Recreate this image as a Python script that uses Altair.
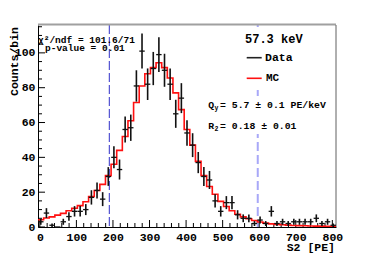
import altair as alt
import numpy as np
import pandas as pd

# ---- data ----
x_range = [-5, 810]
n_bins = 53
data_counts = [3, 8, 1, 0, 3, 6, 9, 9, 10, 17,
               21, 16, 29, 40, 33, 56, 57, 81, 101, 82,
               91, 99, 90, 82, 65, 74, 54, 47, 37, 29,
               27, 15, 9, 14, 14, 7, 5, 5, 2, 4,
               2, 9, 2, 3, 2, 3, 3, 3, 3, 5,
               2, 3, 1]
mc_counts = [4.2, 5.2, 5.8, 6.8, 7.8, 9.3, 10.8, 12.3, 14.5, 17.5,
             21, 24.5, 29.5, 36, 44, 52, 61, 71.5, 81, 88,
             91.5, 94.3, 91.5, 85.6, 77, 67.4, 56, 47, 37.7, 29.5,
             23.3, 18.8, 14.7, 11.8, 9.3, 7.3, 5.8, 4.7, 3.7, 2.9,
             2.2, 1.8, 1.5, 1.3, 1.1, 0.9, 0.8, 0.7, 0.6, 0.5,
             0.5, 0.4, 0.4]
y_range = [0, 116]
x_major = [0, 100, 200, 300, 400, 500, 600, 700, 800]
x_minor = [v for v in range(0, 810, 20) if v % 100 != 0]
y_major = [0, 20, 40, 60, 80, 100]
y_minor = [v for v in range(0, 116, 5) if v % 20 != 0]
cut_lines = [190, 596]
energy_text = "57.3 keV"
chi2_text = "χ²/ndf = 101.6/71"
pval_text = "p-value = 0.01"
qy_text = "Q  = 5.7 ± 0.1 PE/keV"
r2_text = "R  = 0.18 ± 0.01"
x_title = "S2 [PE]"
y_title = "Counts/bin"

# ---- derived tables ----
edges = np.linspace(x_range[0], x_range[1], n_bins + 1)
counts = np.array(data_counts, dtype=float)
err = np.sqrt(counts)
df = pd.DataFrame({
    "c": (edges[:-1] + edges[1:]) / 2,
    "lo": edges[:-1] + 0.3,
    "hi": edges[1:] - 0.3,
    "n": counts,
    "elo": counts - err,
    "ehi": counts + err,
})
mc_df = pd.DataFrame({"x": edges, "y": mc_counts + [mc_counts[-1]]})

W, H = 298, 202
FONT = "Liberation Mono"
xs = alt.Scale(domain=x_range, nice=False, zero=False)
ys = alt.Scale(domain=y_range, nice=False, zero=False)

X_AXIS = alt.Axis(
    values=x_major, ticks=False, tickSize=0, grid=False, title=None,
    labelFont=FONT, labelFontWeight="bold", labelFontSize=11.5,
    labelColor="black", labelPadding=4, domainColor="black", domainWidth=1,
    labelFlush=False)
Y_AXIS = alt.Axis(
    values=y_major, ticks=False, tickSize=0, grid=False, title=None,
    labelFont=FONT, labelFontWeight="bold", labelFontSize=11.5,
    labelColor="black", labelPadding=3, domainColor="black", domainWidth=1,
    labelFlush=False)


def X(field, **kw):
    return alt.X(field, scale=xs, axis=X_AXIS, **kw)


def Y(field, **kw):
    return alt.Y(field, scale=ys, axis=Y_AXIS, **kw)


one = pd.DataFrame({"a": [0]})

top_frame = alt.Chart(one).mark_rule(color="#a0a0a0", strokeWidth=2).encode(
    x=alt.value(0), x2=alt.value(W), y=alt.value(-0.5))
right_frame = alt.Chart(one).mark_rule(color="#606060", strokeWidth=1).encode(
    x=alt.value(W), y=alt.value(0), y2=alt.value(H))

xt_major = alt.Chart(pd.DataFrame({"v": x_major})).mark_rule(color="black", strokeWidth=1).encode(
    x=X("v:Q"), y=alt.value(H), y2=alt.value(H - 7))
xt_minor = alt.Chart(pd.DataFrame({"v": x_minor})).mark_rule(color="black", strokeWidth=1).encode(
    x=X("v:Q"), y=alt.value(H), y2=alt.value(H - 4))
yt_major = alt.Chart(pd.DataFrame({"v": y_major})).mark_rule(color="black", strokeWidth=1).encode(
    y=Y("v:Q"), x=alt.value(0), x2=alt.value(7))
yt_minor = alt.Chart(pd.DataFrame({"v": y_minor})).mark_rule(color="black", strokeWidth=1).encode(
    y=Y("v:Q"), x=alt.value(0), x2=alt.value(4))

cut_lo = alt.Chart(pd.DataFrame({"v": [cut_lines[0]]})).mark_rule(
    color="#3030c8", strokeWidth=1, strokeDash=[9, 3]).encode(
    x=X("v:Q"), y=alt.value(0), y2=alt.value(H))
cut_hi = alt.Chart(pd.DataFrame({"v": [cut_lines[1]]})).mark_rule(
    color="#a8a8f8", strokeWidth=2, strokeDash=[9, 4]).encode(
    x=X("v:Q"), y=alt.value(0), y2=alt.value(H))

box1 = alt.Chart(one).mark_rect(color="white").encode(
    x=alt.value(200), x2=alt.value(292), y=alt.value(2), y2=alt.value(62))
box2 = alt.Chart(one).mark_rect(color="white").encode(
    x=alt.value(167), x2=alt.value(292), y=alt.value(71), y2=alt.value(109))

mc_line = alt.Chart(mc_df).mark_line(interpolate="step-after", color="#ff1010", strokeWidth=1.6).encode(
    x=X("x:Q"), y=Y("y:Q"), order="x:Q")

err_v = alt.Chart(df).mark_rule(color="#111111", strokeWidth=1.6).encode(
    x=X("c:Q"), y=Y("elo:Q"), y2="ehi:Q")
err_h = alt.Chart(df).mark_rule(color="#111111", strokeWidth=1.3).encode(
    x=X("lo:Q"), x2="hi:Q", y=Y("n:Q"))


def txt(t, x, y, size, align="left", angle=0, weight="bold", color="black", baseline="middle"):
    return alt.Chart(pd.DataFrame({"t": [t]})).mark_text(
        font=FONT, fontSize=size, fontWeight=weight, align=align, baseline=baseline,
        angle=angle, color=color).encode(text="t:N", x=alt.value(x), y=alt.value(y))


leg_data = alt.Chart(one).mark_rule(color="#222222", strokeWidth=1.6).encode(
    x=alt.value(208.7), x2=alt.value(223.7), y=alt.value(32.7))
leg_mc = alt.Chart(one).mark_rule(color="#ff1010", strokeWidth=1.6).encode(
    x=alt.value(208.7), x2=alt.value(223.7), y=alt.value(53.3))

texts = [
    txt(energy_text, 207, 13.7, 12),
    txt("Data", 227, 32.7, 11.5),
    txt("MC", 228, 53.3, 11),
    txt(qy_text, 170.3, 80, 9.8),
    txt("y", 176.5, 83, 6.5),
    txt(r2_text, 170.3, 101, 9.8),
    txt("2", 176.5, 104, 6.5),
    txt(chi2_text, 0, 15, 9.5),
    txt(pval_text, 7, 23.3, 9.5),
    txt(x_title, 297, 223, 11.5, align="right"),
    txt(y_title, -29.5, 2, 11.5, align="right", angle=270, baseline="top"),
]

chart = alt.layer(
    cut_lo, cut_hi, box1, box2, top_frame, right_frame,
    xt_major, xt_minor, yt_major, yt_minor,
    mc_line, err_v, err_h, leg_data, leg_mc, *texts
).properties(
    width=W, height=H,
    padding={"left": 30, "top": 17, "right": 30, "bottom": 26},
    autosize=alt.AutoSizeParams(type="none"),
    background="white",
).configure_view(stroke=None)

chart.save("out.html", embed_options={"renderer": "svg", "actions": False})
